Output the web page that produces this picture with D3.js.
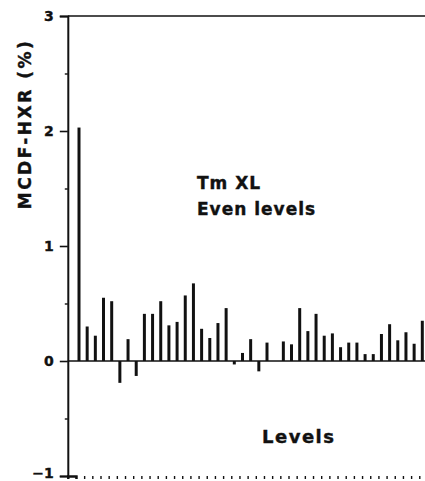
<!DOCTYPE html>
<html>
<head>
<meta charset="utf-8">
<script src="https://cdn.jsdelivr.net/npm/d3@7"></script>
<style>
  body { margin: 0; background: #fff; }
  text { font-family: "DejaVu Sans", sans-serif; font-weight: bold; fill: #111;
         stroke: #111; stroke-width: 0.4px; }
</style>
</head>
<body>
<svg width="425" height="481"></svg>
<script>
// MCDF-HXR per level (null = no bar)
var levelValues = [2.03, 0.30, 0.22, 0.55, 0.52, -0.19, 0.19, -0.13, 0.41, 0.41,
                   0.52, 0.31, 0.34, 0.57, 0.675, 0.28, 0.20, 0.33, 0.46, -0.03,
                   0.07, 0.19, -0.09, 0.16, null, 0.17, 0.145, 0.46, 0.26, 0.41,
                   0.22, 0.24, 0.12, 0.16, 0.16, 0.06, 0.06, 0.235, 0.32, 0.18,
                   0.25, 0.15, 0.35];
var yTicks = [-1, 0, 1, 2, 3];
var yMinorTicks = [-0.5, 0.5, 1.5, 2.5];
var titleLines = ["Tm XL", "Even levels"];
var xTitle = "Levels";
var yTitle = "MCDF-HXR (%)";

var svg = d3.select("svg"),
    width = +svg.attr("width"),
    height = +svg.attr("height");

var x0 = 67.8, step = 8.174;
var nTicks = Math.ceil((width - x0) / step) + 1;
var x = d3.scaleLinear().domain([0, 1]).range([x0, x0 + step]);
var y = d3.scaleLinear().domain([-1, 3]).range([476, 16]);

// bars
svg.append("g")
    .selectAll("line")
    .data(levelValues.map((v, i) => ({ i: i, v: v })).filter(d => d.v !== null))
    .enter().append("line")
    .attr("x1", d => x(d.i + 1.37))
    .attr("x2", d => x(d.i + 1.37))
    .attr("y1", y(0))
    .attr("y2", d => y(d.v))
    .attr("stroke", "#111")
    .attr("stroke-width", 3);

// zero line
svg.append("line")
    .attr("x1", x(0)).attr("x2", width)
    .attr("y1", y(0)).attr("y2", y(0))
    .attr("stroke", "#111").attr("stroke-width", 1.6);

// top frame line
svg.append("line")
    .attr("x1", x(0)).attr("x2", width)
    .attr("y1", y(3)).attr("y2", y(3))
    .attr("stroke", "#111").attr("stroke-width", 1.6);

// y axis
var yAxis = svg.append("g")
    .attr("transform", "translate(" + x(0) + ",0)")
    .call(d3.axisLeft(y).tickValues(yTicks).tickSize(8).tickPadding(6).tickFormat(d3.format("d")));
yAxis.select(".domain").attr("stroke-width", 2).attr("stroke", "#111");
yAxis.selectAll(".tick line").attr("stroke-width", 1.6).attr("stroke", "#111");
yAxis.selectAll(".tick text")
    .attr("font-size", 14).attr("font-family", null).attr("fill", "#111")
    .attr("dy", d => d === -1 ? "0.1em" : "0.32em");

svg.append("g")
    .attr("transform", "translate(" + x(0) + ",0)")
    .call(d3.axisLeft(y).tickValues(yMinorTicks).tickSize(3).tickFormat(""))
    .call(g => g.select(".domain").remove())
    .selectAll(".tick line").attr("stroke", "#111").attr("stroke-width", 1.4);

// x axis (one tick per level)
var xAxis = svg.append("g")
    .attr("transform", "translate(0," + y(-1) + ")")
    .call(d3.axisBottom(x).tickValues(d3.range(0, nTicks)).tickSize(3).tickFormat(""));
xAxis.select(".domain").attr("stroke-width", 2.4).attr("stroke", "#111");
xAxis.selectAll(".tick line").attr("stroke", "#111").attr("stroke-width", 1.4);

// y axis title
svg.append("text")
    .attr("transform", "translate(31,124) rotate(-90)")
    .attr("text-anchor", "middle")
    .attr("font-size", 17)
    .attr("letter-spacing", 2.5)
    .text(yTitle);

// annotation
svg.append("g").selectAll("text")
    .data(titleLines)
    .enter().append("text")
    .attr("x", 197)
    .attr("y", (d, i) => 189 + i * 26)
    .attr("font-size", 17)
    .attr("letter-spacing", 1)
    .text(d => d);

svg.append("text")
    .attr("x", 262)
    .attr("y", 443)
    .attr("font-size", 18)
    .attr("letter-spacing", 1.5)
    .text(xTitle);
</script>
</body>
</html>
